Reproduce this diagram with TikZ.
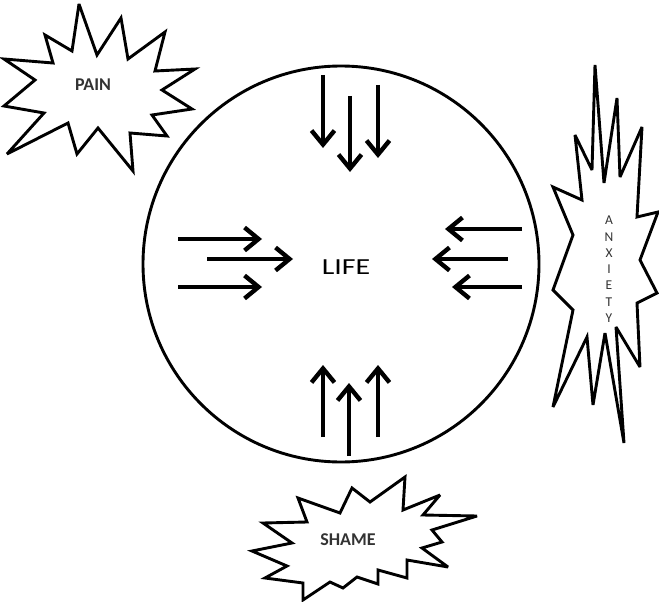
\documentclass[tikz,border=0pt]{standalone}
\usepackage{fontspec}
\setmainfont{Carlito}
\usetikzlibrary{arrows.meta}
\begin{document}
\begin{tikzpicture}[x=1pt,y=-1pt,
  starshape/.style={draw=black,line width=2.9pt,line join=miter,miter limit=4,fill=white},
  bigarrow/.style={line width=4.4pt,-{Straight Barb[length=14pt,width=23pt,line width=4.4pt]}},
  startext/.style={font=\bfseries\fontsize{18}{18}\selectfont,text=black!80},
  lettertext/.style={font=\fontsize{13.5}{13.5}\selectfont,text=black!80,inner sep=0pt}]
\useasboundingbox (0,0) rectangle (659,602);
% circle
\node[draw=black,line width=2.9pt,circle,minimum size=396pt,inner sep=0pt] (circ) at (341,264) {};
\node (life) at (346,267) {\scalebox{1.3}[1]{\fontsize{23}{23}\selectfont LIFE}};
% PAIN star
\draw[starshape] (79,4) -- (97,55) -- (121,18) -- (128,59) -- (165,32) -- (155,71) -- (195,69) -- (162,90) -- (192,109) -- (152,115) -- (167,136) -- (130,133) -- (133,171) -- (98,128) -- (77,154) -- (68,123) -- (7,154) -- (44,113) -- (4,106) -- (35,80) -- (4,59) -- (53,63) -- (45,35) -- (72,51) -- cycle;
\node[startext] (pain) at (93,85) {PAIN};
% ANXIETY star
\draw[starshape] (595,65) -- (604,183) -- (617,98) -- (620,177) -- (642,127) -- (637,217) -- (658,212) -- (640,260) -- (657,293) -- (637,303) -- (640,367) -- (616,327) -- (624,443) -- (605,333) -- (593,405) -- (587,337) -- (553,407) -- (573,310) -- (553,290) -- (573,235) -- (553,187) -- (582,200) -- (575,135) -- (592,170) -- cycle;
\node[lettertext] (ax1) at (609,220) {A};
\node[lettertext] (ax2) at (609,237) {N};
\node[lettertext] (ax3) at (609,253) {X};
\node[lettertext] (ax4) at (609,269) {I};
\node[lettertext] (ax5) at (609,285) {E};
\node[lettertext] (ax6) at (609,302) {T};
\node[lettertext] (ax7) at (609,318) {Y};
% SHAME star
\draw[starshape] (298,498) -- (340,513) -- (352,488) -- (370,502) -- (405,477) -- (403,510) -- (440,495) -- (423,515) -- (477,516) -- (432,530) -- (442,542) -- (422,548) -- (448,567) -- (407,560) -- (407,578) -- (378,570) -- (378,584) -- (357,577) -- (343,588) -- (330,582) -- (303,600) -- (303,583) -- (265,578) -- (287,566) -- (252,551) -- (292,543) -- (263,523) -- (307,522) -- cycle;
\node[startext] (shame) at (348,540) {SHAME};
% arrow coordinates
\coordinate (t1s) at (323,75);  \coordinate (t1e) at (323,148);
\coordinate (t2s) at (350,96);  \coordinate (t2e) at (350,172);
\coordinate (t3s) at (378,85);  \coordinate (t3e) at (378,158);
\coordinate (b1s) at (323,437); \coordinate (b1e) at (323,365);
\coordinate (b2s) at (349,456); \coordinate (b2e) at (349,383);
\coordinate (b3s) at (378,437); \coordinate (b3e) at (378,365);
\coordinate (l1s) at (178,239); \coordinate (l1e) at (262,239);
\coordinate (l2s) at (207,259); \coordinate (l2e) at (293,259);
\coordinate (l3s) at (178,287); \coordinate (l3e) at (262,287);
\coordinate (r1s) at (522,229); \coordinate (r1e) at (445,229);
\coordinate (r2s) at (508,259); \coordinate (r2e) at (432,259);
\coordinate (r3s) at (522,287); \coordinate (r3e) at (452,287);
\foreach \a in {t1,t2,t3,b1,b2,b3,l1,l2,l3,r1,r2,r3}
  \draw[bigarrow] (\a s) -- (\a e);
\end{tikzpicture}
\end{document}
